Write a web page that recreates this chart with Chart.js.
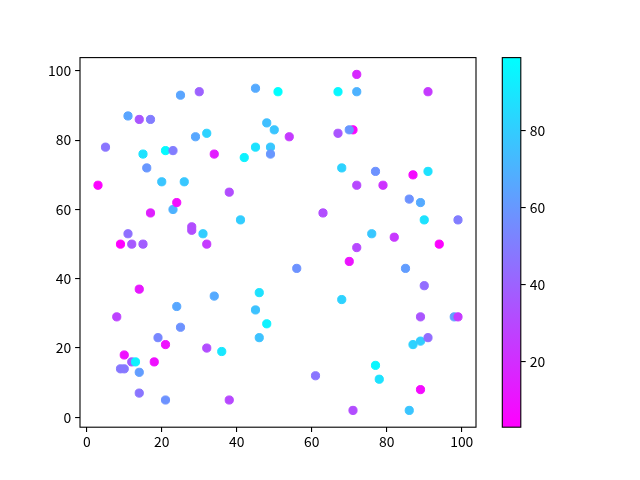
<!DOCTYPE html>
<html><head><meta charset="utf-8">
<script src="https://cdn.jsdelivr.net/npm/chart.js@4/dist/chart.umd.min.js"></script>
<style>
html,body{margin:0;padding:0;background:#fff;}
#wrap{position:relative;width:640px;height:480px;}
canvas{position:absolute;left:0;top:0;}
</style></head>
<body><div id="wrap"><canvas id="main" width="640" height="480"></canvas><canvas id="cbar" width="640" height="480"></canvas></div>
<script>
const xs = [3,5,8,9,9,10,10,11,11,12, 12,13,14,14,14,14,15,15,16,17, 17,18,19,20,21,21,21,23,23,24, 24,25,25,26,28,28,29,30,31,32, 32,32,34,34,36,38,38,41,42,45, 45,45,46,46,48,48,49,49,50,51, 54,56,61,63,67,67,68,68,71,70, 70,71,72,72,72,72,77,76,77,78, 79,82,85,86,86,87,87,89,89,89, 89,90,90,91,91,91,94,98,99,99];
const ys = [67,78,29,50,14,18,14,87,53,50, 16,16,86,37,13,7,76,50,72,86, 59,16,23,68,77,21,5,77,60,62, 32,93,26,68,55,54,81,94,53,82, 50,20,76,35,19,65,5,57,75,95, 78,31,36,23,85,27,78,76,83,94, 81,43,12,59,94,82,72,34,83,83, 45,2,99,94,67,49,71,53,15,11, 67,52,43,63,2,70,21,62,29,22, 8,57,38,94,71,23,50,29,57,29];
const cs = [4,47,28,3,48,9,48,65,45,36, 38,94,35,12,62,47,88,38,60,50, 15,9,54,77,97,9,58,50,70,8, 66,65,58,78,32,32,66,40,80,82, 25,32,14,67,90,32,30,80,94,67, 88,76,88,76,75,94,78,60,77,99, 25,58,47,32,96,35,82,82,5,60, 10,32,18,70,30,30,58,78,96,88, 22,24,62,58,77,7,82,67,35,80, 7,88,44,25,88,44,4,63,50,25];
const xTicks = [0,20,40,60,80,100];
const yTicks = [0,20,40,60,80,100];
const cTicks = [20,40,60,80];

const cMin = Math.min(...cs), cMax = Math.max(...cs);
function coolR(c){
  const n = (c - cMin) / (cMax - cMin);
  return 'rgb(' + Math.round(255*(1-n)) + ',' + Math.round(255*n) + ',255)';
}
function margin(arr){
  const lo = Math.min(...arr), hi = Math.max(...arr), m = (hi-lo)*0.05;
  return [lo-m, hi+m];
}
const [xMin,xMax] = margin(xs);
const [yMin,yMax] = margin(ys);
const FONT = {family:'"Noto Sans CJK SC", "Noto Sans", sans-serif', size:13.9};
Chart.defaults.font = FONT;
Chart.defaults.color = '#000';

const boxPlugin = {
  id:'box',
  afterDraw(chart){
    const a = chart.chartArea, ctx = chart.ctx;
    ctx.save(); ctx.strokeStyle='#000'; ctx.lineWidth=1.1;
    ctx.strokeRect(a.left, a.top, a.right-a.left, a.bottom-a.top);
    ctx.restore();
  }
};

const pts = xs.map((x,i)=>({x:x, y:ys[i]}));
new Chart(document.getElementById('main'), {
  type:'scatter',
  data:{datasets:[{data:pts, backgroundColor:cs.map(coolR), borderColor:cs.map(coolR), borderWidth:1, pointRadius:4.1, pointHoverRadius:4.1}]},
  options:{
    responsive:false, animation:false, devicePixelRatio:1,
    layout:{padding:{left:40, right:164, top:57.6, bottom:22.8}},
    plugins:{legend:{display:false}, tooltip:{enabled:false}},
    scales:{
      x:{type:'linear', min:xMin, max:xMax,
         afterBuildTicks(s){ s.ticks = xTicks.map(v=>({value:v})); },
         afterFit(s){ s.height = 30; },
         border:{display:false},
         grid:{drawOnChartArea:false, drawTicks:true, tickLength:4.9, color:'#000', lineWidth:1.1},
         ticks:{padding:1, font:FONT, color:'#000', maxRotation:0}},
      y:{type:'linear', min:yMin, max:yMax,
         afterBuildTicks(s){ s.ticks = yTicks.map(v=>({value:v})); },
         afterFit(s){ s.width = 40; },
         border:{display:false},
         grid:{drawOnChartArea:false, drawTicks:true, tickLength:4.9, color:'#000', lineWidth:1.1},
         ticks:{padding:4, font:FONT, color:'#000'}}
    }
  },
  plugins:[boxPlugin]
});

new Chart(document.getElementById('cbar'), {
  type:'bar',
  data:{labels:['c'], datasets:[{data:[[cMin,cMax]], borderWidth:0, barPercentage:1, categoryPercentage:1,
    backgroundColor(ctx){
      const a = ctx.chart.chartArea; if(!a) return coolR(cMin);
      const g = ctx.chart.ctx.createLinearGradient(0,a.bottom,0,a.top);
      g.addColorStop(0, coolR(cMin)); g.addColorStop(1, coolR(cMax));
      return g;
    }}]},
  options:{
    responsive:false, animation:false, devicePixelRatio:1,
    layout:{padding:{left:502.3, right:79.2, top:57.6, bottom:52.8}},
    plugins:{legend:{display:false}, tooltip:{enabled:false}},
    scales:{
      x:{display:false},
      y:{type:'linear', position:'right', min:cMin, max:cMax,
         afterBuildTicks(s){ s.ticks = cTicks.map(v=>({value:v})); },
         afterFit(s){ s.width = 40; },
         border:{display:false},
         grid:{drawOnChartArea:false, drawTicks:true, tickLength:4.9, color:'#000', lineWidth:1.1},
         ticks:{padding:4, font:FONT, color:'#000'}}
    }
  },
  plugins:[boxPlugin]
});
</script></body></html>
